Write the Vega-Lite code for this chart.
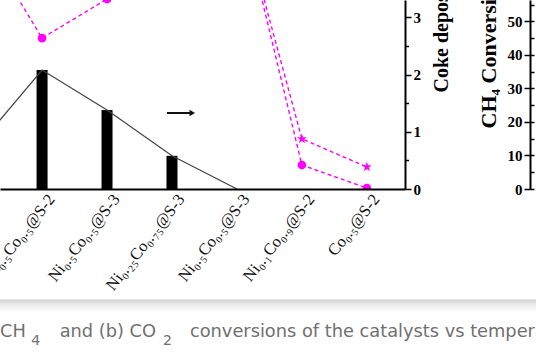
{
  "$schema": "https://vega.github.io/schema/vega-lite/v6.json",
  "width": 405,
  "height": 189,
  "autosize": {"type": "none"},
  "padding": {"left": 0, "top": 0, "right": 131, "bottom": 170},
  "background": "#ffffff",
  "config": {
    "view": {"stroke": null},
    "axis": {
      "grid": false,
      "labelFont": "Liberation Serif",
      "titleFont": "Liberation Serif",
      "labelColor": "#000000",
      "titleColor": "#000000",
      "domainColor": "#000000",
      "tickColor": "#000000",
      "domainWidth": 2,
      "tickWidth": 1.5,
      "labelFontWeight": "bold",
      "titleFontWeight": "bold",
      "labelFontSize": 15,
      "labelOverlap": false,
      "labelFlush": false,
      "labelBound": false
    }
  },
  "datasets": {
    "catalysts": [
      {"idx": 0, "catalyst": "Ni@S-2", "coke": 0.73, "conv_circle": 82, "conv_star": 95},
      {"idx": 1, "catalyst": "Ni₀.₅Co₀.₅@S-2", "coke": 2.08, "conv_circle": 47.9, "conv_star": 72},
      {"idx": 2, "catalyst": "Ni₀.₅Co₀.₅@S-3", "coke": 1.38, "conv_circle": 60.3, "conv_star": 78},
      {"idx": 3, "catalyst": "Ni₀.₂₅Co₀.₇₅@S-3", "coke": 0.58, "conv_circle": 80, "conv_star": 86},
      {"idx": 4, "catalyst": "Ni₀.₅Co₀.₅@S-3", "coke": 0, "conv_circle": 93, "conv_star": 92},
      {"idx": 5, "catalyst": "Ni₀.₁Co₀.₉@S-2", "coke": null, "conv_circle": 7.6, "conv_star": 15.9},
      {"idx": 6, "catalyst": "Co₀.₅@S-2", "coke": null, "conv_circle": 0.3, "conv_star": 7.0}
    ]
  },
  "title": {
    "text": "CH\u00a0\u00a0\u00a0\u00a0\u00a0\u00a0and (b) CO\u00a0\u00a0\u00a0\u00a0\u00a0\u00a0conversions of the catalysts vs temperature",
    "subtitle": "\u200b\u00a0\u00a0\u00a0\u00a0\u00a0\u00a0\u00a04\u00a0\u00a0\u00a0\u00a0\u00a0\u00a0\u00a0\u00a0\u00a0\u00a0\u00a0\u00a0\u00a0\u00a0\u00a0\u00a0\u00a0\u00a0\u00a0\u00a0\u00a0\u00a0\u00a0\u00a0\u00a0\u00a0\u00a0\u20092",
    "orient": "bottom",
    "anchor": "start",
    "frame": "group",
    "offset": 10,
    "font": "DejaVu Sans",
    "fontSize": 17.8,
    "fontWeight": "normal",
    "color": "#707070",
    "subtitleFont": "DejaVu Sans",
    "subtitleFontSize": 14,
    "subtitleColor": "#707070",
    "subtitlePadding": -6
  },
  "layer": [
    {
      "data": {"values": [{}]},
      "mark": {
        "type": "rect",
        "clip": false,
        "fill": {
          "gradient": "linear",
          "x1": 0, "y1": 0, "x2": 0, "y2": 1,
          "stops": [
            {"offset": 0, "color": "#cfcfcf"},
            {"offset": 0.35, "color": "#e8e8e8"},
            {"offset": 1, "color": "#ffffff"}
          ]
        }
      },
      "encoding": {
        "x": {"datum": -2, "type": "quantitative", "title": null},
        "x2": {"datum": 12},
        "y": {"datum": -1.93, "type": "quantitative", "scale": {"domain": [0, 3.304], "nice": false}, "axis": null},
        "y2": {"datum": -2.16}
      }
    },
    {
      "data": {"name": "catalysts"},
      "layer": [
        {
          "mark": {"type": "bar", "size": 11, "color": "#000000", "clip": true},
          "encoding": {
            "x": {
              "field": "idx",
              "type": "quantitative",
              "title": null,
              "scale": {"domain": [0.4294, 6.51], "nice": false, "zero": false},
              "axis": {
                "values": [1, 2, 3, 4, 5, 6],
                "labelExpr": "['Ni@S-2','Ni₀.₅Co₀.₅@S-2','Ni₀.₅Co₀.₅@S-3','Ni₀.₂₅Co₀.₇₅@S-3','Ni₀.₅Co₀.₅@S-3','Ni₀.₁Co₀.₉@S-2','Co₀.₅@S-2'][datum.value]",
                "labelAngle": -52,
                "labelAlign": "right",
                "labelBaseline": "middle",
                "labelPadding": 7,
                "labelOffset": 9,
                "labelFont": "Liberation Serif",
                "labelFontSize": 16.5,
                "labelFontWeight": "normal",
                "labelColor": "#111111",
                "ticks": false,
                "domainWidth": 2,
                "zindex": 1,
                "title": null
              }
            },
            "y": {
              "field": "coke",
              "type": "quantitative",
              "title": "Coke deposition (mg/g)",
              "scale": {"domain": [0, 3.304], "nice": false},
              "axis": {
                "orient": "right",
                "values": [0, 1, 2, 3],
                "format": "d",
                "tickSize": 6,
                "labelPadding": 2,
                "title": "Coke deposition (mg/g)",
                "titleFontSize": 20,
                "titleAngle": 270,
                "titleAlign": "left",
                "titleBaseline": "alphabetic",
                "titleX": 42,
                "titleY": 92,
                "zindex": 1
              }
            }
          }
        },
        {
          "mark": {"type": "line", "color": "#444444", "strokeWidth": 1.2, "clip": true},
          "encoding": {
            "x": {"field": "idx", "type": "quantitative", "title": null},
            "y": {"field": "coke", "type": "quantitative", "title": "Coke deposition (mg/g)"}
          }
        }
      ]
    },
    {
      "data": {"name": "catalysts"},
      "encoding": {"x": {"field": "idx", "type": "quantitative", "title": null}},
      "layer": [
        {
          "mark": {"type": "line", "color": "#ff00ff", "strokeDash": [4, 3], "strokeWidth": 1.4, "clip": true},
          "encoding": {"y": {"field": "conv_circle", "type": "quantitative", "scale": {"domain": [0, 60], "nice": false}, "axis": null}}
        },
        {
          "mark": {"type": "line", "color": "#ff00ff", "strokeDash": [4, 3], "strokeWidth": 1.4, "clip": true},
          "encoding": {"y": {"field": "conv_star", "type": "quantitative", "scale": {"domain": [0, 60], "nice": false}, "axis": null}}
        },
        {
          "mark": {"type": "point", "shape": "circle", "filled": true, "size": 75, "color": "#ff00ff", "opacity": 1, "clip": true},
          "encoding": {"y": {"field": "conv_circle", "type": "quantitative", "scale": {"domain": [0, 60], "nice": false}, "axis": null}}
        },
        {
          "mark": {"type": "point", "shape": "M0,-1L0.2245,-0.309L0.9511,-0.309L0.3633,0.118L0.5878,0.809L0,0.382L-0.5878,0.809L-0.3633,0.118L-0.9511,-0.309L-0.2245,-0.309Z", "filled": true, "size": 110, "color": "#ff00ff", "opacity": 1, "clip": true},
          "encoding": {"y": {"field": "conv_star", "type": "quantitative", "scale": {"domain": [0, 60], "nice": false}, "axis": null}}
        }
      ]
    },
    {
      "data": {"values": [{}]},
      "layer": [
        {
          "mark": {"type": "rule", "color": "#111111", "strokeWidth": 2},
          "encoding": {
            "x": {"datum": 2.922, "type": "quantitative", "title": null},
            "x2": {"datum": 3.297},
            "y": {"datum": 1.329, "type": "quantitative", "scale": {"domain": [0, 3.304], "nice": false}, "axis": null}
          }
        },
        {
          "mark": {"type": "point", "shape": "triangle-right", "filled": true, "size": 40, "color": "#111111", "opacity": 1},
          "encoding": {
            "x": {"datum": 3.312, "type": "quantitative", "title": null},
            "y": {"datum": 1.329, "type": "quantitative", "scale": {"domain": [0, 3.304], "nice": false}, "axis": null}
          }
        }
      ]
    },
    {
      "data": {"values": [{}]},
      "mark": {"type": "rule", "opacity": 0},
      "encoding": {
        "y": {
          "datum": 0,
          "type": "quantitative",
          "scale": {"domain": [0, 3.304], "nice": false},
          "axis": {"orient": "right", "values": [0.5, 1.5, 2.5], "tickSize": 3.5, "labels": false, "domain": false, "title": null}
        }
      }
    },
    {
      "data": {"values": [{}]},
      "mark": {"type": "rule", "opacity": 0},
      "encoding": {
        "y": {
          "datum": 0,
          "type": "quantitative",
          "scale": {"domain": [0, 56.4], "nice": false},
          "axis": {
            "orient": "left",
            "offset": -530,
            "values": [0, 10, 20, 30, 40, 50],
            "format": "d",
            "tickSize": 6,
            "labelPadding": 2,
            "domainWidth": 2,
            "title": "CH₄ Conversion (%)",
            "titleFontSize": 22,
            "titleAngle": 270,
            "titleAlign": "left",
            "titleBaseline": "alphabetic",
            "titleX": -35,
            "titleY": 128
          }
        }
      }
    },
    {
      "data": {"values": [{}]},
      "mark": {"type": "rule", "opacity": 0},
      "encoding": {
        "y": {
          "datum": 0,
          "type": "quantitative",
          "scale": {"domain": [0, 56.4], "nice": false},
          "axis": {"orient": "left", "offset": -530, "values": [0, 5, 10, 15, 20, 25, 30, 35, 40, 45, 50, 55], "tickSize": -4, "labels": false, "domain": false, "title": null}
        }
      }
    }
  ],
  "resolve": {"scale": {"y": "independent"}, "axis": {"y": "independent"}}
}
